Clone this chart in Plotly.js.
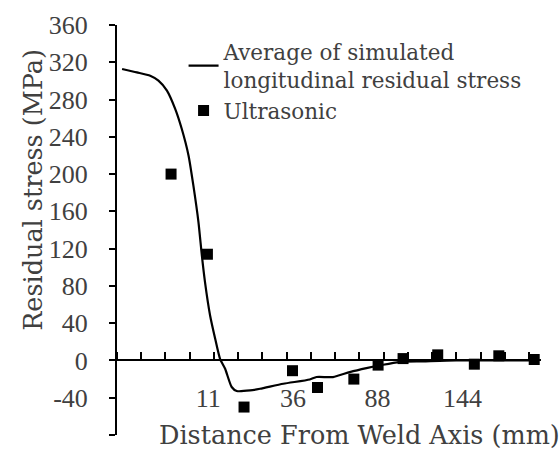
<!DOCTYPE html>
<html>
<head>
<meta charset="utf-8">
<script src="https://cdn.plot.ly/plotly-3.0.1.min.js"></script>
<style>html,body{margin:0;padding:0;background:#fff;}#chart{width:560px;height:449px;}</style>
</head>
<body>
<div id="chart"></div>
<script>
// x positions are in axis units (one unit per tick interval)
const simX = [0.21, 0.82, 1.37, 1.71, 2.06, 2.40, 2.67, 2.95, 3.15, 3.36, 3.50, 3.63, 3.84, 4.05, 4.25, 4.46, 4.73, 4.94, 5.49, 5.90, 6.86, 7.95, 8.23, 8.91, 9.60, 10.29, 10.97, 11.66, 12.62, 13.99, 17.28];
const simY = [312.8, 309.2, 305.6, 300.3, 289.6, 270, 248.6, 220, 187.8, 148.5, 112.7, 84.1, 48.3, 23.3, 1.8, -8.9, -28.5, -32.8, -32.2, -30.4, -25, -20.4, -17.8, -17.8, -12.5, -8.2, -4.6, -1.7, -1, 0, 0];
const utX = [2.23, 3.73, 5.24, 7.24, 8.27, 9.77, 10.77, 11.80, 13.23, 14.74, 15.75, 17.21];
const utY = [200, 114, -50, -11, -29, -20, -5, 2, 6, -4, 5, 1];
const tickPos = [3.76, 7.26, 10.75, 14.25];
const tickLabels = ['11', '36', '88', '144'];
const yTicks = [-80, -40, 0, 40, 80, 120, 160, 200, 240, 280, 320, 360];
const yTickLabels = ['-80', '-40', '0', '40', '80', '120', '160', '200', '240', '280', '320', '360'];

const FONT = 'DejaVu Serif';
const NUMFONT = 'Liberation Serif';
const TXT = '#404040';

const traces = [
  {
    x: simX, y: simY, type: 'scatter', mode: 'lines',
    xaxis: 'x', yaxis: 'y',
    name: 'Average of simulated<br>longitudinal residual stress',
    line: {color: '#000', width: 2.2, shape: 'spline', smoothing: 0.6}
  },
  {
    x: utX, y: utY, type: 'scatter', mode: 'markers',
    xaxis: 'x2', yaxis: 'y',
    name: 'Ultrasonic',
    marker: {symbol: 'square', size: 11, color: '#000'}
  }
];

const layout = {
  width: 560, height: 449,
  margin: {l: 117, r: 19, t: 25, b: 14},
  paper_bgcolor: '#fff', plot_bgcolor: '#fff',
  font: {family: FONT, size: 22, color: TXT},
  showlegend: true,
  legend: {
    x: 0.157, y: 0.985, xanchor: 'left', yanchor: 'top',
    bgcolor: 'rgba(0,0,0,0)', borderwidth: 0,
    font: {family: FONT, size: 21.5, color: TXT},
    itemwidth: 30, tracegroupgap: 0
  },
  // label axis (no line), sits just below the zero line
  xaxis: {
    range: [0, 17.49],
    anchor: 'free', position: 0.135, side: 'bottom',
    showgrid: false, zeroline: false, showline: false,
    tickmode: 'array', tickvals: tickPos, ticktext: tickLabels,
    ticks: '',
    tickfont: {family: NUMFONT, size: 26, color: TXT}
  },
  // axis line at y = 0 with upward tick marks
  xaxis2: {
    overlaying: 'x', matches: 'x',
    anchor: 'free', position: 80 / 440, side: 'top',
    showgrid: false, zeroline: false,
    showline: true, linecolor: '#000', linewidth: 2,
    tickmode: 'linear', tick0: 0, dtick: 1,
    ticks: 'outside', ticklen: 7, tickwidth: 2, tickcolor: '#000',
    showticklabels: false
  },
  yaxis: {
    range: [-80, 360],
    tickmode: 'array', tickvals: yTicks, ticktext: yTickLabels,
    showgrid: false, zeroline: false,
    showline: true, linecolor: '#000', linewidth: 2,
    ticks: 'outside', ticklen: 6, tickwidth: 2, tickcolor: '#000',
    ticklabelstandoff: 16,
    tickfont: {family: NUMFONT, size: 26, color: TXT}
  },
  annotations: [
    {text: 'Residual stress (MPa)', xref: 'paper', yref: 'paper', x: -0.198, y: 0.598, xanchor: 'center', yanchor: 'middle', textangle: -90, showarrow: false, font: {family: FONT, size: 25.5, color: TXT}},
    {text: 'Distance From Weld Axis (mm)', xref: 'paper', yref: 'paper', x: 0.573, y: 0.0, xanchor: 'center', yanchor: 'middle', showarrow: false, font: {family: FONT, size: 25.5, color: TXT}}
  ]
};

Plotly.newPlot('chart', traces, layout, {displayModeBar: false, staticPlot: true});
</script>
</body>
</html>
